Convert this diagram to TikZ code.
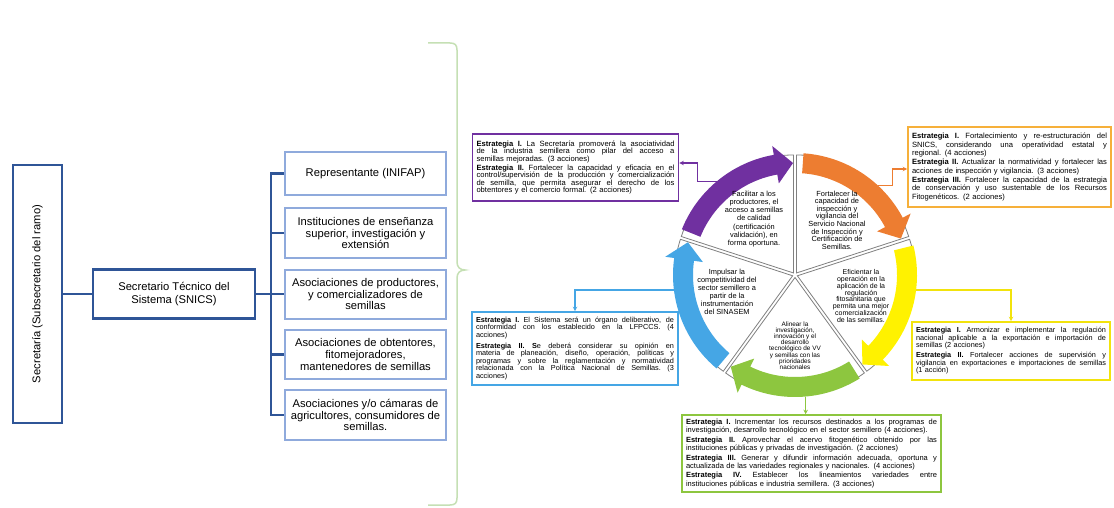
\documentclass[tikz,border=0pt]{standalone}
\usepackage{fontspec}
\setmainfont{Liberation Sans}
\usetikzlibrary{arrows.meta}
\definecolor{dblue}{HTML}{2F5597}
\definecolor{lblue}{HTML}{8FAADC}
\definecolor{bgreen}{HTML}{C5E0B4}
\definecolor{cpurple}{HTML}{7030A0}
\definecolor{corange}{HTML}{ED7D31}
\definecolor{cgold}{HTML}{F6B03A}
\definecolor{cyellow}{HTML}{FFF200}
\definecolor{cyellowb}{HTML}{F2E30C}
\definecolor{cgreen}{HTML}{8DC63F}
\definecolor{cblue}{HTML}{45A6E5}
\definecolor{wgray}{HTML}{808080}
\def\stw{198pt}
\newcommand\jl[1]{\noindent\hbox to \stw{\spaceskip=0.278em plus 2em minus 0.05em\xspaceskip=\spaceskip #1}\\}
\newcommand\el[2][1.5pt]{\noindent\hbox{#2}\\[#1]}
\newcommand\fl[1]{\noindent\hbox{#1}}
\newcommand\Es[1]{\textbf{Estrategia #1}}
\newcommand\carrow[4]{\fill[#1] (#2:122) arc[start angle=#2, end angle=#3, radius=122] -- (#3:131) -- (#4:112) -- (#3:93) -- (#3:102) arc[start angle=#3, end angle=#2, radius=102] -- cycle;}
\begin{document}
\begin{tikzpicture}[x=1pt, y=-1pt,
 secbox/.style={draw=dblue, line width=2.7pt, fill=white, align=center, inner sep=0pt, font=\fontsize{11.2}{12.5}\selectfont},
 membox/.style={draw=lblue, line width=2pt, fill=white, align=center, inner sep=0pt, minimum width=161pt, font=\fontsize{11.2}{11.7}\selectfont},
 stbox/.style={draw=#1, line width=1.6pt, fill=white, inner xsep=4pt, inner ysep=3pt},
 wtext/.style={align=center, inner sep=0pt},
 link/.style={line width=1.3pt, -{Stealth[length=4.5pt,width=4.5pt]}},
 trunkline/.style={dblue, line width=2.5pt}
]
\fill[white] (0,0) rectangle (1114,508);
\useasboundingbox (0,0) rectangle (1114,508);

% left hierarchy
\node[secbox, rotate=90, minimum width=258pt, minimum height=49pt] (sec) at (37.5,294) {Secretaría (Subsecretario del ramo)};
\node[secbox, minimum width=162pt, minimum height=49pt] (tec) at (174,294) {Secretario Técnico del\\Sistema (SNICS)};

\node[membox, minimum height=43pt] (m1) at (365.5,173.5) {Representante (INIFAP)};
\node[membox, minimum height=50pt] (m2) at (365.5,233) {Instituciones de enseñanza\\superior, investigación y\\extensión};
\node[membox, minimum height=49pt] (m3) at (365.5,294) {Asociaciones de productores,\\y comercializadores de\\semillas};
\node[membox, minimum height=49pt] (m4) at (365.5,354.5) {Asociaciones de obtentores,\\fitomejoradores,\\mantenedores de semillas};
\node[membox, minimum height=50pt] (m5) at (365.5,415) {Asociaciones y/o cámaras de\\agricultores, consumidores de\\semillas.};

\draw[trunkline] (sec) -- (tec);
\draw[trunkline] (tec) -- (m3);
\draw[trunkline] (m1.west) -- ++(-13,0) |- (m5.west);
\draw[trunkline] (m2.west) -- ++(-13,0);
\draw[trunkline] (m4.west) -- ++(-13,0);

% brace
\draw[bgreen, line width=1.5pt] (428,43) -- (450,43) .. controls (455,43) and (457,45) .. (457,50) -- (457,262) .. controls (457,267) and (460,270) .. (465,270) .. controls (460,270) and (457,273) .. (457,278) -- (457,498) .. controls (457,503) and (455,505) .. (450,505) -- (428,505);

% cycle
\begin{scope}[shift={(795,275)}, yscale=-1]
 \foreach \a/\b in {90/162, 18/90, -54/18, -126/-54, 162/234} {
   \pgfmathsetmacro\m{(\a+\b)/2}
   \filldraw[draw=wgray, fill=white, line width=0.8pt, shift={(\m:2.5)}] (0,0) -- (\a:118) arc[start angle=\a, end angle=\b, radius=118] -- cycle;
 }
 \carrow{cpurple}{158}{100}{91}
 \carrow{corange}{86}{28}{19}
 \carrow{cyellow}{14}{-44}{-53}
 \carrow{cgreen}{-58}{-116}{-125}
 \carrow{cblue}{-130}{-188}{-197}
 \coordinate (pc) at (130:122);
 \coordinate (oc) at (47:122);
 \coordinate (yc) at (-7:122);
 \coordinate (gc) at (-85:122);
 \coordinate (bc) at (187:122);
\end{scope}

\node[wtext, font=\fontsize{7.4}{8.3}\selectfont] (wp) at (754,219) {Facilitar a los\\productores, el\\acceso a semillas\\de calidad\\(certificación\\validación), en\\forma oportuna.};
\node[wtext, font=\fontsize{7.4}{7.6}\selectfont] (wo) at (837,220) {Fortalecer la\\capacidad de\\inspección y\\vigilancia del\\Servicio Nacional\\de Inspección y\\Certificación de\\Semillas.};
\node[wtext, font=\fontsize{7}{6.9}\selectfont] (wy) at (861,296) {Eficientar la\\operación en la\\aplicación de la\\regulación\\fitosanitaria que\\permita una mejor\\comercialización\\de las semillas.};
\node[wtext, font=\fontsize{6.4}{6.2}\selectfont] (wg) at (795,345.5) {Alinear la\\investigación,\\innovación y el\\desarrollo\\tecnológico de VV\\y semillas con las\\prioridades\\nacionales};
\node[wtext, font=\fontsize{7.4}{8}\selectfont] (wb) at (727,292) {Impulsar la\\competitividad del\\sector semillero a\\partir de la\\instrumentación\\del SINASEM};

% strategy boxes
\node[stbox=cpurple, text width=198pt, minimum height=67pt, font=\fontsize{7.6}{7.4}\selectfont] (pbox) at (575.5,167.5) {\def\stw{198pt}%
\jl{\Es{I.} La Secretaría promoverá la asociatividad}
\jl{de la industria semillera como pilar del acceso a}
\el{semillas mejoradas. (3 acciones)}
\jl{\Es{II.} Fortalecer la capacidad y eficacia en el}
\jl{control/supervisión de la producción y comercialización}
\jl{de semilla, que permita asegurar el derecho de los}
\fl{obtentores y el comercio formal. (2 acciones)}};

\node[stbox=cgold, text width=195pt, minimum height=80pt, font=\fontsize{7.6}{8.5}\selectfont] (obox) at (1009.5,167) {\def\stw{195pt}%
\jl{\Es{I.} Fortalecimiento y re-estructuración del}
\jl{SNICS, considerando una operatividad estatal y}
\el[0.3pt]{regional. (4 acciones)}
\jl{\Es{II.} Actualizar la normatividad y fortalecer las}
\el[0.3pt]{acciones de inspección y vigilancia. (3 acciones)}
\jl{\Es{III.} Fortalecer la capacidad de la estrategia}
\jl{de conservación y uso sustentable de los Recursos}
\fl{Fitogenéticos. (2 acciones)}};

\node[stbox=cblue, text width=198pt, minimum height=73pt, font=\fontsize{7.3}{7.5}\selectfont] (bbox) at (575,348.5) {\def\stw{198pt}%
\jl{\Es{I.} El Sistema será un órgano deliberativo, de}
\jl{conformidad con los establecido en la LFPCCS. (4}
\el[3.5pt]{acciones)}
\jl{\Es{II. S}e deberá considerar su opinión en}
\jl{materia de planeación, diseño, operación, políticas y}
\jl{programas y sobre la reglamentación y normatividad}
\jl{relacionada con la Política Nacional de Semillas. (3}
\fl{acciones)}};

\node[stbox=cyellowb, text width=190pt, minimum height=58pt, font=\fontsize{7.3}{7.5}\selectfont] (ybox) at (1011,351) {\def\stw{190pt}%
\jl{\Es{I.} Armonizar e implementar la regulación}
\jl{nacional aplicable a la exportación e importación de}
\el[2.5pt]{semillas (2 acciones)}
\jl{\Es{II.} Fortalecer acciones de supervisión y}
\jl{vigilancia en exportaciones e importaciones de semillas}
\fl{(1 acción)}};

\node[stbox=cgreen, text width=251pt, minimum height=77pt, font=\fontsize{7.5}{8.1}\selectfont] (gbox) at (811.5,453.5) {\def\stw{251pt}%
\jl{\Es{I.} Incrementar los recursos destinados a los programas de}
\el{investigación, desarrollo tecnológico en el sector semillero (4 acciones).}
\jl{\Es{II.} Aprovechar el acervo fitogenético obtenido por las}
\el{instituciones públicas y privadas de investigación. (2 acciones)}
\jl{\Es{III.} Generar y difundir información adecuada, oportuna y}
\el{actualizada de las variedades regionales y nacionales. (4 acciones)}
\jl{\Es{IV.} Establecer los lineamientos variedades entre}
\fl{instituciones públicas e industria semillera. (3 acciones)}};

% connectors
\draw[link, cpurple] (pc) -- ++(-19,0) |- ([yshift=4.5pt]pbox.east);
\draw[link, corange] (oc) -- ++(14,0) |- ([yshift=-2pt]obox.west);
\draw[link, cyellowb] (yc) -| (ybox.north);
\draw[link, cgreen] (gc) -- (gc |- gbox.north);
\draw[link, cblue] (bc) -| (bbox.north);
\end{tikzpicture}
\end{document}
